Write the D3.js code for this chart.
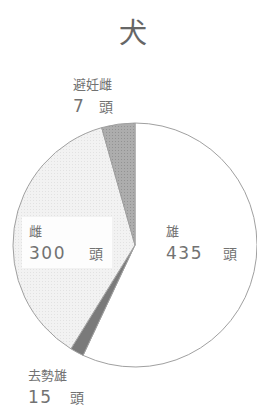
<!DOCTYPE html>
<html>
<head>
<meta charset="utf-8">
<script src="https://cdn.jsdelivr.net/npm/d3@7"></script>
<style>
	html, body { margin: 0; padding: 0; background: #fff; }
	svg { display: block; }
	text { font-family: "Noto Sans CJK JP", "Noto Sans", sans-serif; fill: #727272; }
	text.num { font-family: "DejaVu Sans", sans-serif; }
</style>
</head>
<body>
<div id="chart"></div>
<script>
var title = "犬";
var names = ["雄", "去勢雄", "雌", "避妊雌"];
var counts = [435, 15, 300, 7];
// share of the circle as drawn in the picture (percent); the small slices are enlarged there
var drawnShare = [57.0, 1.8, 36.8, 4.4];
var unit = "頭";

var width = 257, height = 406;
var cx = 135, cy = 245, r = 122;

var svg = d3.select("#chart").append("svg")
	.attr("width", width)
	.attr("height", height);

var defs = svg.append("defs");

// light stipple for 雌
var p1 = defs.append("pattern")
	.attr("id", "stipple")
	.attr("width", 3).attr("height", 3)
	.attr("patternUnits", "userSpaceOnUse");
p1.append("rect").attr("width", 3).attr("height", 3).attr("fill", "#f2f2f2");
p1.append("rect").attr("x", 0).attr("y", 0).attr("width", 1).attr("height", 1).attr("fill", "#e2e2e2");

// mid grey crosshatch for 避妊雌
var p2 = defs.append("pattern")
	.attr("id", "hatch")
	.attr("width", 3).attr("height", 3)
	.attr("patternUnits", "userSpaceOnUse");
p2.append("rect").attr("width", 3).attr("height", 3).attr("fill", "#adadad");
p2.append("rect").attr("x", 1).attr("y", 1).attr("width", 1).attr("height", 1).attr("fill", "#939393");

var fills = {
	"雄": "#ffffff",
	"去勢雄": "#7a7a7a",
	"雌": "url(#stipple)",
	"避妊雌": "url(#hatch)"
};

var rows = names.map(function(n, i){
	return {name: n, count: counts[i], share: drawnShare[i]};
});

var pie = d3.pie()
	.sort(null)
	.value(function(d){ return d.share; });

var arc = d3.arc()
	.innerRadius(0)
	.outerRadius(r);

var g = svg.append("g")
	.attr("transform", "translate(" + cx + "," + cy + ")");

g.selectAll("path.slice")
	.data(pie(rows))
	.enter()
	.append("path")
	.classed("slice", true)
	.attr("d", arc)
	.attr("fill", function(d){ return fills[d.data.name]; })
	.attr("stroke", "#a0a0a0")
	.attr("stroke-width", 1);

svg.append("text")
	.attr("x", 133)
	.attr("y", 43)
	.attr("text-anchor", "middle")
	.style("font-size", "28px")
	.style("fill", "#666")
	.text(title);

// label placement (layout only)
var labelPos = {
	"避妊雌": {x: 73, y: 89, unitX: 99, box: false},
	"雌": {x: 29, y: 236, unitX: 89, box: true},
	"雄": {x: 166, y: 236, unitX: 223, box: false},
	"去勢雄": {x: 28, y: 380, unitX: 70, box: false}
};

var labels = svg.selectAll("g.label")
	.data(rows)
	.enter()
	.append("g")
	.classed("label", true);

labels.each(function(d){
	var pos = labelPos[d.name];
	var lg = d3.select(this);
	if(pos.box){
		lg.append("rect")
			.attr("x", pos.x - 7)
			.attr("y", pos.y - 19)
			.attr("width", 90)
			.attr("height", 51)
			.attr("fill", "#fdfdfd");
	}
	lg.append("text")
		.attr("x", pos.x)
		.attr("y", pos.y)
		.style("font-size", "13px")
		.text(d.name);
	lg.append("text")
		.classed("num", true)
		.attr("x", pos.x)
		.attr("y", pos.y + 23)
		.style("font-size", "17px")
		.style("letter-spacing", "1.5px")
		.text(d.count);
	lg.append("text")
		.attr("x", pos.unitX)
		.attr("y", pos.y + 23)
		.style("font-size", "14px")
		.text(unit);
});
</script>
</body>
</html>
